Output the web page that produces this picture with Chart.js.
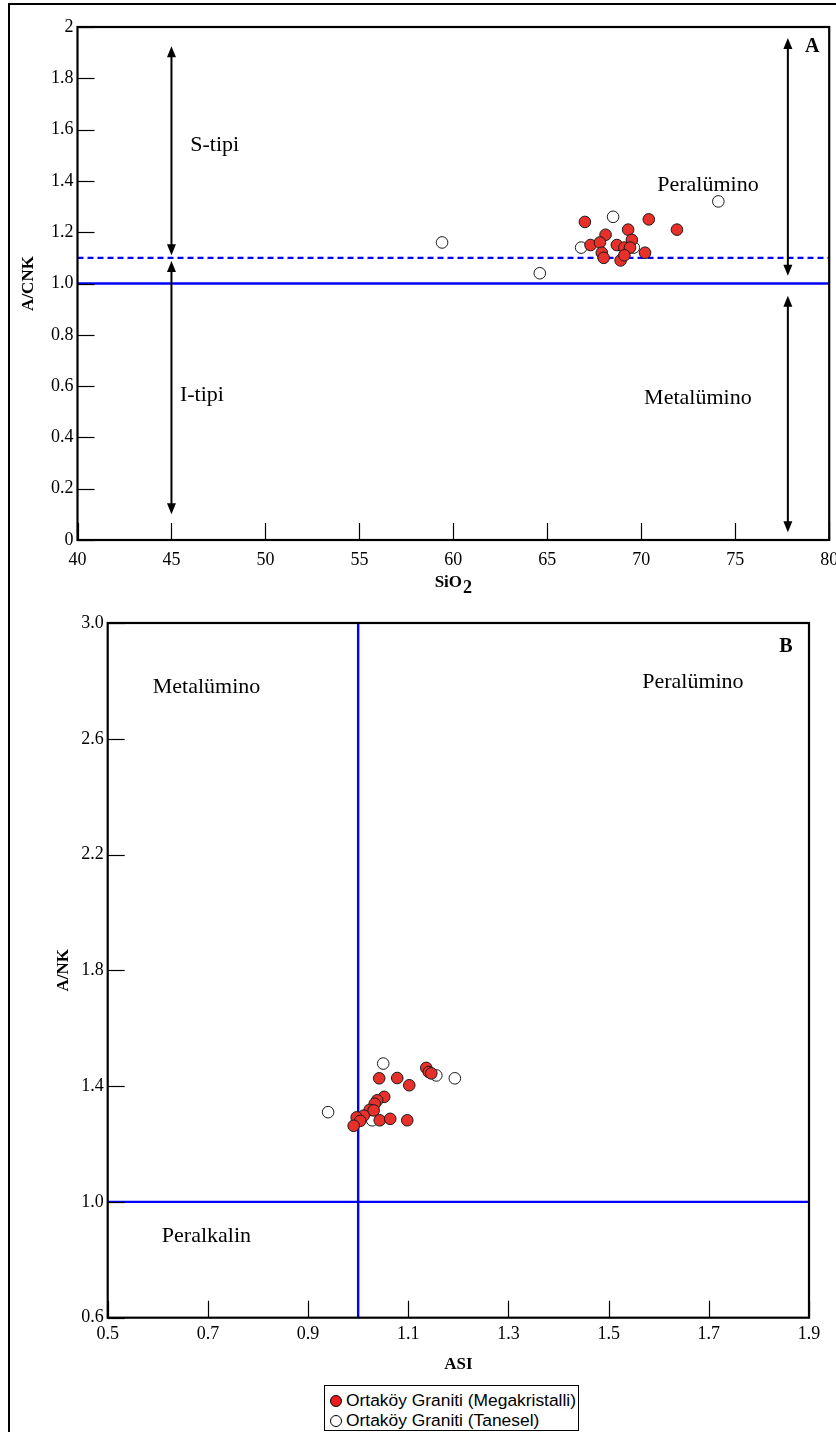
<!DOCTYPE html>
<html lang="tr">
<head>
    <meta charset="UTF-8">
    <script src="https://cdn.jsdelivr.net/npm/chart.js"></script>
    <title>A/CNK - SiO2 ve A/NK - ASI</title>
    <style>
        body {
            margin: 0;
            background: #fff;
            width: 836px;
            height: 1432px;
            overflow: hidden;
            position: relative;
        }
        #frame {
            position: absolute;
            left: 8px;
            top: 3px;
            width: 900px;
            height: 1500px;
            border-left: 2px solid #000;
            border-top: 2px solid #000;
        }
        .wrap {
            position: absolute;
            left: 0;
        }
        #legend {
            position: absolute;
            left: 324px;
            top: 1385px;
            width: 255px;
            height: 46px;
            box-sizing: border-box;
            border: 1.5px solid #000;
            background: #fff;
            font-family: 'Liberation Sans', Arial, sans-serif;
            font-size: 17.4px;
            line-height: 20px;
            padding: 4px 0 0 5px;
            color: #000;
            white-space: nowrap;
        }
        .dot {
            display: inline-block;
            width: 10px;
            height: 10px;
            border: 1.5px solid #000;
            border-radius: 50%;
            margin-right: 4px;
            vertical-align: -1px;
            background: #fff;
        }
        .dot.red {
            background: #ec1c1c;
        }
    </style>
</head>
<body>
    <div id="frame"></div>
    <div class="wrap" style="top:0"><canvas id="chartA" width="836" height="600"></canvas></div>
    <div class="wrap" style="top:600px"><canvas id="chartB" width="836" height="780"></canvas></div>
    <div id="legend">
        <div><span class="dot red"></span>Ortaköy Graniti (Megakristalli)</div>
        <div><span class="dot"></span>Ortaköy Graniti (Tanesel)</div>
    </div>
    <script>
        // --- diagram A: SiO2 vs A/CNK ---
        const siO2Mega = [67.0, 70.4, 71.9, 69.3, 68.1, 69.5, 67.3, 67.8, 68.7, 69.1, 69.4, 67.9, 68.0, 70.2, 68.9, 69.1];
        const acnkMega = [1.24, 1.25, 1.21, 1.21, 1.19, 1.17, 1.15, 1.16, 1.15, 1.14, 1.14, 1.12, 1.10, 1.12, 1.09, 1.11];
        const siO2Tan = [59.4, 64.6, 66.8, 68.5, 69.6, 74.1];
        const acnkTan = [1.16, 1.04, 1.14, 1.26, 1.14, 1.32];
        const xTicksA = [40, 45, 50, 55, 60, 65, 70, 75, 80];
        const yTicksA = [0, 0.2, 0.4, 0.6, 0.8, 1.0, 1.2, 1.4, 1.6, 1.8, 2];
        const yLabelsA = ['0', '0.2', '0.4', '0.6', '0.8', '1.0', '1.2', '1.4', '1.6', '1.8', '2'];
        const solidA = 1.0;   // metalümino / peralümino
        const dashedA = 1.1;  // I-tipi / S-tipi

        // --- diagram B: ASI vs A/NK ---
        const asiMega = [1.136, 1.141, 1.146, 1.042, 1.078, 1.102, 1.052, 1.038, 1.033, 1.023, 1.031, 1.011, 0.997, 1.004, 1.043, 1.064, 1.098, 0.991];
        const ankMega = [1.463, 1.449, 1.444, 1.427, 1.428, 1.403, 1.363, 1.351, 1.339, 1.318, 1.316, 1.298, 1.292, 1.280, 1.282, 1.287, 1.282, 1.263];
        const asiTan = [1.050, 1.156, 1.193, 0.940, 1.028];
        const ankTan = [1.478, 1.437, 1.427, 1.310, 1.282];
        const xTicksB = [0.5, 0.7, 0.9, 1.1, 1.3, 1.5, 1.7, 1.9];
        const xLabelsB = ['0.5', '0.7', '0.9', '1.1', '1.3', '1.5', '1.7', '1.9'];
        const yTicksB = [0.6, 1.0, 1.4, 1.8, 2.2, 2.6, 3.0];
        const yLabelsB = ['0.6', '1.0', '1.4', '1.8', '2.2', '2.6', '3.0'];
        const asiLimit = 1.0;
        const ankLimit = 1.0;

        Chart.defaults.font.family = "'Liberation Serif', 'Times New Roman', serif";
        Chart.defaults.color = '#000';
        Chart.defaults.animation = false;

        const RED = '#e8302a';
        const BLUE = '#0000ff';
        const tickFont = { size: 18 };
        const titleFont = { size: 17, weight: 'bold' };

        function pts(xs, ys) {
            return xs.map((v, i) => ({ x: v, y: ys[i] }));
        }

        function pointSet(label, data, fill) {
            return {
                label: label,
                data: data,
                backgroundColor: fill,
                borderColor: '#1a1a1a',
                borderWidth: 1,
                pointRadius: 5.8,
                showLine: false
            };
        }

        function lineSet(data, dash) {
            return {
                data: data,
                showLine: true,
                borderColor: BLUE,
                borderWidth: 2.4,
                borderDash: dash || [],
                pointRadius: 0,
                fill: false
            };
        }

        function arrowHead(ctx, x, y, dir) {
            ctx.beginPath();
            ctx.moveTo(x, y);
            ctx.lineTo(x - 4.5, y - dir * 11);
            ctx.lineTo(x + 4.5, y - dir * 11);
            ctx.closePath();
            ctx.fill();
        }

        // frame, inward ticks, arrows and region names
        const decor = {
            id: 'decor',
            afterDatasetsDraw(chart, args, opts) {
                const { ctx, chartArea: a } = chart;
                const sx = chart.scales.x, sy = chart.scales.y;
                ctx.save();
                ctx.strokeStyle = '#000';
                ctx.fillStyle = '#000';
                ctx.lineWidth = 1.2;
                sx.ticks.forEach(t => {
                    const px = Math.round(sx.getPixelForValue(t.value)) + 0.5;
                    ctx.beginPath();
                    ctx.moveTo(px, a.bottom);
                    ctx.lineTo(px, a.bottom - opts.tick);
                    ctx.stroke();
                });
                sy.ticks.forEach(t => {
                    const py = Math.round(sy.getPixelForValue(t.value)) + 0.5;
                    ctx.beginPath();
                    ctx.moveTo(a.left, py);
                    ctx.lineTo(a.left + opts.tick, py);
                    ctx.stroke();
                });
                ctx.lineWidth = 2.2;
                ctx.strokeRect(a.left, a.top, a.right - a.left, a.bottom - a.top);

                (opts.arrows || []).forEach(ar => {
                    const px = sx.getPixelForValue(ar.x);
                    const p1 = sy.getPixelForValue(ar.from);
                    const p2 = sy.getPixelForValue(ar.to);
                    ctx.lineWidth = 2;
                    ctx.beginPath();
                    ctx.moveTo(px, p1 + 6);
                    ctx.lineTo(px, p2 - 6);
                    ctx.stroke();
                    arrowHead(ctx, px, p1, -1);
                    arrowHead(ctx, px, p2, 1);
                });

                (opts.texts || []).forEach(tx => {
                    ctx.font = (tx.bold ? 'bold ' : '') + tx.size + "px 'Liberation Serif', serif";
                    ctx.textAlign = tx.align || 'left';
                    ctx.textBaseline = 'middle';
                    ctx.fillText(tx.text, sx.getPixelForValue(tx.x), sy.getPixelForValue(tx.y));
                });

                // x-axis title with a real subscript (SiO2)
                if (opts.xTitle) {
                    const t = opts.xTitle;
                    ctx.font = "bold 17px 'Liberation Serif', serif";
                    ctx.textBaseline = 'middle';
                    ctx.textAlign = 'left';
                    const w1 = ctx.measureText(t.main).width;
                    ctx.font = "bold 18px 'Liberation Serif', serif";
                    const w2 = ctx.measureText(t.sub).width;
                    const cx = (a.left + a.right) / 2;
                    const ty = sx.bottom - t.offset;
                    const x0 = cx - (w1 + w2 + 1) / 2;
                    ctx.font = "bold 17px 'Liberation Serif', serif";
                    ctx.fillText(t.main, x0, ty);
                    ctx.font = "bold 18px 'Liberation Serif', serif";
                    ctx.fillText(t.sub, x0 + w1 + 1, ty + 5);
                }
                ctx.restore();
            }
        };

        const chartA = new Chart(document.getElementById('chartA'), {
            type: 'scatter',
            data: {
                datasets: [
                    pointSet('Ortaköy Graniti (Megakristalli)', pts(siO2Mega, acnkMega), RED),
                    pointSet('Ortaköy Graniti (Tanesel)', pts(siO2Tan, acnkTan), '#fff'),
                    lineSet([{ x: 40, y: dashedA }, { x: 80, y: dashedA }], [6, 4]),
                    lineSet([{ x: 40, y: solidA }, { x: 80, y: solidA }])
                ]
            },
            options: {
                responsive: false,
                layout: { padding: { left: 0, top: 27, right: 5.5, bottom: 0 } },
                scales: {
                    x: {
                        type: 'linear',
                        min: 40,
                        max: 80,
                        afterBuildTicks: s => { s.ticks = xTicksA.map(v => ({ value: v })); },
                        afterFit: s => { s.height = 60; s.paddingLeft = 0; s.paddingRight = 0; },
                        grid: { display: false, drawTicks: false },
                        border: { display: false },
                        ticks: { font: tickFont, padding: 9, maxRotation: 0, callback: v => String(v) },
                        title: { display: false }
                    },
                    y: {
                        type: 'linear',
                        min: 0,
                        max: 2,
                        afterBuildTicks: s => { s.ticks = yTicksA.map(v => ({ value: v })); },
                        afterFit: s => { s.width = 77.5; s.paddingTop = 0; s.paddingBottom = 0; },
                        grid: { display: false, drawTicks: false },
                        border: { display: false },
                        ticks: { font: tickFont, padding: 4, callback: (v, i) => yLabelsA[i] },
                        title: { display: true, text: 'A/CNK', font: titleFont, padding: { top: 18, bottom: 0 } }
                    }
                },
                plugins: {
                    legend: { display: false },
                    tooltip: { enabled: false },
                    decor: {
                        tick: 17,
                        xTitle: { main: 'SiO', sub: '2', offset: 17 },
                        arrows: [
                            { x: 45, from: 1.925, to: 1.11 },
                            { x: 45, from: 1.088, to: 0.1 },
                            { x: 77.8, from: 1.957, to: 1.03 },
                            { x: 77.8, from: 0.952, to: 0.03 }
                        ],
                        texts: [
                            { text: 'S-tipi', x: 46.0, y: 1.54, size: 22 },
                            { text: 'I-tipi', x: 45.45, y: 0.565, size: 22 },
                            { text: 'Peralümino', x: 70.85, y: 1.384, size: 22 },
                            { text: 'Metalümino', x: 70.15, y: 0.554, size: 22 },
                            { text: 'A', x: 79.1, y: 1.922, size: 20, bold: true, align: 'center' }
                        ]
                    }
                }
            },
            plugins: [decor]
        });

        const chartB = new Chart(document.getElementById('chartB'), {
            type: 'scatter',
            data: {
                datasets: [
                    pointSet('Ortaköy Graniti (Megakristalli)', pts(asiMega, ankMega), RED),
                    pointSet('Ortaköy Graniti (Tanesel)', pts(asiTan, ankTan), '#fff'),
                    lineSet([{ x: asiLimit, y: 0.6 }, { x: asiLimit, y: 3.0 }]),
                    lineSet([{ x: 0.5, y: ankLimit }, { x: 1.9, y: ankLimit }])
                ]
            },
            options: {
                responsive: false,
                layout: { padding: { left: 0, top: 23, right: 27, bottom: 0 } },
                scales: {
                    x: {
                        type: 'linear',
                        min: 0.5,
                        max: 1.9,
                        afterBuildTicks: s => { s.ticks = xTicksB.map(v => ({ value: v })); },
                        afterFit: s => { s.height = 62.3; s.paddingLeft = 0; s.paddingRight = 0; },
                        grid: { display: false, drawTicks: false },
                        border: { display: false },
                        ticks: { font: tickFont, padding: 6, maxRotation: 0, callback: (v, i) => xLabelsB[i] },
                        title: { display: true, text: 'ASI', font: titleFont, padding: { top: 0, bottom: 5 } }
                    },
                    y: {
                        type: 'linear',
                        min: 0.6,
                        max: 3.0,
                        afterBuildTicks: s => { s.ticks = yTicksB.map(v => ({ value: v })); },
                        afterFit: s => { s.width = 107.7; s.paddingTop = 0; s.paddingBottom = 0; },
                        grid: { display: false, drawTicks: false },
                        border: { display: false },
                        ticks: { font: tickFont, padding: 4, callback: (v, i) => yLabelsB[i] },
                        title: { display: true, text: 'A/NK', font: titleFont, padding: { top: 53, bottom: 0 } }
                    }
                },
                plugins: {
                    legend: { display: false },
                    tooltip: { enabled: false },
                    decor: {
                        tick: 17,
                        texts: [
                            { text: 'Metalümino', x: 0.59, y: 2.778, size: 22 },
                            { text: 'Peralümino', x: 1.567, y: 2.795, size: 22 },
                            { text: 'Peralkalin', x: 0.608, y: 0.882, size: 22 },
                            { text: 'B', x: 1.854, y: 2.919, size: 20, bold: true, align: 'center' }
                        ]
                    }
                }
            },
            plugins: [decor]
        });
    </script>
</body>
</html>
